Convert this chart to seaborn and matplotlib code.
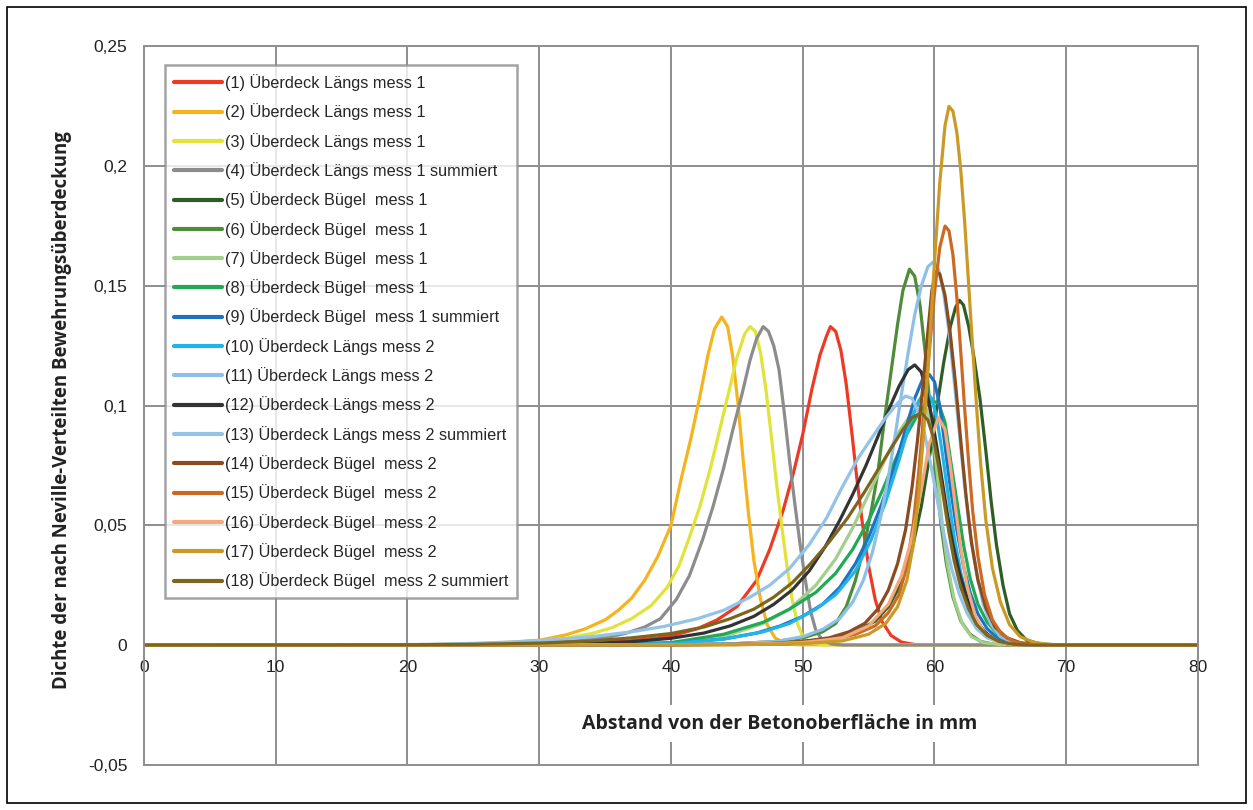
import pandas as pd
import matplotlib.pyplot as plt
import seaborn as sns
from matplotlib.patches import Rectangle
from matplotlib.ticker import FuncFormatter

# curve samples (x in mm, y = density)
labels = [
    "(1) Überdeck Längs mess 1",
    "(2) Überdeck Längs mess 1",
    "(3) Überdeck Längs mess 1",
    "(4) Überdeck Längs mess 1 summiert",
    "(5) Überdeck Bügel  mess 1",
    "(6) Überdeck Bügel  mess 1",
    "(7) Überdeck Bügel  mess 1",
    "(8) Überdeck Bügel  mess 1",
    "(9) Überdeck Bügel  mess 1 summiert",
    "(10) Überdeck Längs mess 2",
    "(11) Überdeck Längs mess 2",
    "(12) Überdeck Längs mess 2",
    "(13) Überdeck Längs mess 2 summiert",
    "(14) Überdeck Bügel  mess 2",
    "(15) Überdeck Bügel  mess 2",
    "(16) Überdeck Bügel  mess 2",
    "(17) Überdeck Bügel  mess 2",
    "(18) Überdeck Bügel  mess 2 summiert",
]
colors = [
    "#ee3a24", "#f5b41e", "#e2e33a", "#8c8c8c", "#2e5e25", "#4e8c3a",
    "#a3cf8d", "#21a956", "#1f72bf", "#1fb5e8", "#8dc0e6", "#333333",
    "#93c3e8", "#8a4b1f", "#cc6a24", "#f2a97e", "#c99a26", "#7d6520",
]

x1 = [0, 30, 34, 37, 39, 40.5, 42, 43.5, 45, 46.5, 47.5, 48.5, 49.3, 50, 50.7, 51.3, 51.8, 52.1, 52.5, 52.9, 53.3, 53.7, 54.1, 54.5, 55, 55.5, 56, 56.7, 57.5, 58.5, 80]
y1 = [0, 0.0002, 0.0008, 0.0018, 0.003, 0.0045, 0.0068, 0.0105, 0.016, 0.027, 0.040, 0.056, 0.072, 0.088, 0.107, 0.121, 0.129, 0.133, 0.131, 0.123, 0.109, 0.09, 0.07, 0.052, 0.033, 0.019, 0.01, 0.004, 0.0012, 0.0002, 0]
x2 = [0, 20, 25, 28, 30, 32, 33.5, 35, 36, 37, 38, 39, 40, 40.8, 41.5, 42.2, 42.8, 43.3, 43.85, 44.3, 44.7, 45.1, 45.5, 45.9, 46.3, 46.8, 47.3, 47.9, 48.6, 49.5, 80]
y2 = [0, 0.0001, 0.0005, 0.0012, 0.002, 0.0042, 0.0068, 0.0105, 0.0145, 0.0195, 0.027, 0.037, 0.050, 0.07, 0.086, 0.104, 0.121, 0.132, 0.137, 0.133, 0.12, 0.1, 0.076, 0.054, 0.035, 0.019, 0.0085, 0.003, 0.0008, 0.0001, 0]
x3 = [0, 22, 27, 30, 32, 34, 35.5, 37, 38.5, 39.7, 40.6, 41.4, 42.2, 43, 43.7, 44.4, 45, 45.6, 46, 46.4, 46.8, 47.2, 47.6, 48, 48.4, 48.8, 49.2, 49.6, 50, 50.6, 51.5, 80]
y3 = [0, 0.0001, 0.0006, 0.0015, 0.0028, 0.0048, 0.0072, 0.011, 0.0165, 0.024, 0.033, 0.045, 0.058, 0.074, 0.09, 0.106, 0.12, 0.13, 0.133, 0.131, 0.122, 0.107, 0.088, 0.068, 0.05, 0.033, 0.019, 0.009, 0.0035, 0.001, 0.0001, 0]
x4 = [0, 24, 28, 31, 33, 35, 36.5, 38, 39.2, 40.4, 41.4, 42.4, 43.2, 44, 44.7, 45.4, 46, 46.5, 47, 47.4, 47.8, 48.2, 48.6, 49, 49.4, 49.8, 50.2, 50.6, 51, 51.5, 52.2, 53, 80]
y4 = [0, 0.0001, 0.0004, 0.001, 0.0018, 0.003, 0.0048, 0.0075, 0.011, 0.019, 0.029, 0.044, 0.058, 0.074, 0.09, 0.105, 0.119, 0.128, 0.133, 0.131, 0.125, 0.115, 0.097, 0.077, 0.059, 0.042, 0.027, 0.014, 0.006, 0.002, 0.0004, 0, 0]
x5 = [0, 40, 45, 49, 52, 54, 55.5, 56.5, 57.5, 58.3, 59, 59.6, 60.2, 60.7, 61.2, 61.6, 61.9, 62.2, 62.6, 63, 63.45, 63.9, 64.3, 64.7, 65.2, 65.7, 66.3, 67, 68, 69.5, 80]
y5 = [0, 0.0001, 0.0004, 0.001, 0.0025, 0.0055, 0.01, 0.016, 0.026, 0.04, 0.058, 0.078, 0.1, 0.118, 0.133, 0.141, 0.144, 0.142, 0.133, 0.12, 0.103, 0.081, 0.06, 0.042, 0.025, 0.013, 0.006, 0.002, 0.0005, 0, 0]
x6 = [0, 40, 45, 48, 50, 51.5, 52.5, 53.3, 54, 54.6, 55.2, 55.7, 56.2, 56.7, 57.2, 57.6, 58.1, 58.5, 58.9, 59.3, 59.7, 60.1, 60.5, 60.9, 61.4, 62, 62.7, 63.5, 64.5, 66, 80]
y6 = [0, 0.0001, 0.0006, 0.0015, 0.003, 0.0055, 0.009, 0.016, 0.027, 0.04, 0.056, 0.072, 0.094, 0.114, 0.134, 0.148, 0.157, 0.154, 0.142, 0.122, 0.097, 0.072, 0.05, 0.034, 0.02, 0.01, 0.0045, 0.0015, 0.0003, 0, 0]
x7 = [0, 35, 40, 44, 47, 49, 51, 52.5, 53.8, 55, 56.2, 57.3, 58.3, 59.3, 59.8, 60.2, 60.6, 61, 61.5, 62.1, 62.8, 63.7, 65, 80]
y7 = [0, 0.0002, 0.001, 0.0035, 0.009, 0.015, 0.025, 0.036, 0.049, 0.063, 0.077, 0.089, 0.097, 0.1, 0.092, 0.072, 0.05, 0.033, 0.019, 0.009, 0.0035, 0.001, 0.0001, 0]
x8 = [0, 35, 40, 44, 47, 49, 51, 52.5, 53.8, 55, 56, 57, 57.9, 58.7, 59.3, 59.8, 60.3, 60.8, 61.2, 61.7, 62.2, 62.7, 63.3, 64, 64.8, 65.7, 67, 68.5, 80]
y8 = [0, 0.0002, 0.001, 0.0045, 0.0095, 0.015, 0.022, 0.03, 0.04, 0.052, 0.064, 0.077, 0.088, 0.096, 0.1, 0.102, 0.101, 0.093, 0.078, 0.06, 0.042, 0.028, 0.017, 0.0095, 0.0045, 0.0015, 0.0003, 0, 0]
x9 = [0, 35, 40, 44, 46.5, 48.3, 50, 51.5, 52.8, 54, 55, 56, 57, 57.8, 58.5, 59.1, 59.6, 60, 60.4, 60.8, 61.2, 61.7, 62.2, 62.7, 63.3, 64, 64.8, 65.7, 67, 80]
y9 = [0, 0.0001, 0.0006, 0.0025, 0.005, 0.008, 0.012, 0.017, 0.024, 0.034, 0.045, 0.059, 0.075, 0.09, 0.103, 0.111, 0.113, 0.11, 0.1, 0.083, 0.066, 0.048, 0.033, 0.022, 0.013, 0.0068, 0.0028, 0.0008, 0, 0]
x10 = [0, 35, 40, 44, 47, 49, 51, 52.5, 54, 55.2, 56.3, 57.3, 58.1, 58.8, 59.3, 59.8, 60.2, 60.6, 61, 61.5, 62, 62.6, 63.3, 64.1, 65, 66.5, 80]
y10 = [0, 0.0001, 0.0006, 0.0025, 0.0055, 0.009, 0.015, 0.021, 0.031, 0.044, 0.06, 0.077, 0.092, 0.102, 0.106, 0.103, 0.094, 0.08, 0.064, 0.045, 0.03, 0.018, 0.009, 0.004, 0.0012, 0.0001, 0]
x11 = [0, 40, 45, 48, 50, 51.5, 52.8, 53.8, 54.6, 55.3, 55.9, 56.5, 57, 57.5, 58, 58.5, 59, 59.5, 59.9, 60.3, 60.7, 61.1, 61.5, 61.9, 62.3, 62.7, 63.2, 63.7, 64.3, 65, 66, 67.5, 80]
y11 = [0, 0.0001, 0.0006, 0.0015, 0.0035, 0.0065, 0.011, 0.018, 0.027, 0.039, 0.053, 0.07, 0.087, 0.105, 0.122, 0.138, 0.15, 0.158, 0.16, 0.157, 0.147, 0.131, 0.11, 0.088, 0.066, 0.047, 0.03, 0.017, 0.0085, 0.0035, 0.001, 0, 0]
x12 = [0, 28, 33, 37, 40, 42.5, 44.5, 46.3, 47.8, 49.2, 50.5, 51.7, 52.8, 53.8, 54.8, 55.7, 56.5, 57.3, 58, 58.5, 59, 59.4, 59.8, 60.2, 60.6, 61, 61.4, 61.9, 62.5, 63.1, 63.8, 64.6, 65.5, 67, 80]
y12 = [0, 0.0001, 0.0005, 0.0014, 0.0028, 0.005, 0.008, 0.012, 0.017, 0.023, 0.031, 0.041, 0.052, 0.063, 0.075, 0.087, 0.098, 0.108, 0.115, 0.117, 0.114, 0.106, 0.095, 0.082, 0.068, 0.054, 0.042, 0.03, 0.019, 0.011, 0.0055, 0.002, 0.0005, 0, 0]
x13 = [0, 18, 22, 25, 28, 31, 34, 37, 39.5, 42, 44, 46, 47.5, 49, 50.5, 51.8, 53, 54.2, 55.3, 56.3, 57.2, 57.8, 58.3, 58.8, 59.3, 59.8, 60.3, 60.8, 61.3, 61.9, 62.5, 63.2, 64, 65, 66.5, 68, 80]
y13 = [0, 0.0001, 0.0003, 0.0007, 0.0013, 0.0022, 0.0035, 0.0055, 0.0078, 0.011, 0.0145, 0.02, 0.025, 0.032, 0.042, 0.053, 0.066, 0.078, 0.087, 0.095, 0.101, 0.104, 0.103, 0.097, 0.087, 0.073, 0.058, 0.044, 0.032, 0.021, 0.013, 0.0068, 0.003, 0.001, 0.0002, 0, 0]
x14 = [0, 42, 47, 50, 52, 53.5, 54.7, 55.7, 56.5, 57.2, 57.8, 58.3, 58.7, 59.1, 59.5, 59.8, 60.1, 60.4, 60.8, 61.2, 61.6, 62, 62.4, 62.8, 63.3, 63.9, 64.6, 65.5, 66.5, 68, 80]
y14 = [0, 0.0001, 0.0005, 0.0015, 0.003, 0.0055, 0.009, 0.015, 0.023, 0.034, 0.048, 0.066, 0.085, 0.107, 0.131, 0.148, 0.156, 0.155, 0.146, 0.13, 0.109, 0.085, 0.062, 0.043, 0.027, 0.0155, 0.0075, 0.003, 0.001, 0, 0]
x15 = [0, 45, 49, 52, 54, 55.5, 56.5, 57.3, 57.9, 58.4, 58.8, 59.2, 59.6, 60, 60.4, 60.8, 61.1, 61.4, 61.7, 62, 62.3, 62.6, 62.9, 63.3, 63.8, 64.4, 65.1, 66, 67.2, 68.5, 80]
y15 = [0, 0.0002, 0.0008, 0.002, 0.0045, 0.008, 0.0135, 0.021, 0.033, 0.051, 0.072, 0.097, 0.122, 0.147, 0.166, 0.175, 0.173, 0.163, 0.145, 0.122, 0.098, 0.076, 0.056, 0.037, 0.021, 0.0105, 0.0045, 0.0015, 0.0002, 0, 0]
x16 = [0, 45, 50, 53, 55, 56.5, 57.5, 58.3, 59, 59.6, 60.3, 60.8, 61.2, 61.6, 62, 62.5, 63.1, 63.8, 64.7, 66, 80]
y16 = [0, 0.0002, 0.001, 0.003, 0.008, 0.017, 0.029, 0.045, 0.065, 0.084, 0.095, 0.09, 0.075, 0.057, 0.04, 0.024, 0.012, 0.005, 0.0015, 0, 0]
x17 = [0, 45, 50, 53, 55, 56.3, 57.2, 57.9, 58.4, 58.8, 59.2, 59.6, 60, 60.4, 60.8, 61.1, 61.4, 61.7, 62, 62.3, 62.6, 62.9, 63.2, 63.5, 63.9, 64.4, 65, 65.7, 66.5, 67.5, 68.5, 70, 80]
y17 = [0, 0.0001, 0.0006, 0.0017, 0.0045, 0.009, 0.016, 0.027, 0.042, 0.063, 0.09, 0.124, 0.16, 0.193, 0.217, 0.225, 0.223, 0.214, 0.198, 0.176, 0.15, 0.124, 0.099, 0.076, 0.052, 0.032, 0.018, 0.0085, 0.0035, 0.0012, 0.0003, 0, 0]
x18 = [0, 20, 25, 30, 34, 37, 40, 42.5, 44.5, 46.3, 47.8, 49.2, 50.6, 52, 53.4, 54.7, 55.8, 56.8, 57.6, 58.3, 59, 59.5, 59.9, 60.3, 60.7, 61.1, 61.5, 62, 62.6, 63.2, 64, 64.9, 66, 67.5, 80]
y18 = [0, 0.0001, 0.0003, 0.0008, 0.0017, 0.003, 0.0048, 0.0075, 0.011, 0.015, 0.02, 0.026, 0.034, 0.043, 0.053, 0.064, 0.074, 0.083, 0.09, 0.095, 0.097, 0.094, 0.087, 0.075, 0.061, 0.047, 0.035, 0.024, 0.015, 0.0085, 0.004, 0.0015, 0.0003, 0, 0]

xs = [x1, x2, x3, x4, x5, x6, x7, x8, x9, x10, x11, x12, x13, x14, x15, x16, x17, x18]
ys = [y1, y2, y3, y4, y5, y6, y7, y8, y9, y10, y11, y12, y13, y14, y15, y16, y17, y18]

frames = []
for lab, xv, yv in zip(labels, xs, ys):
    frames.append(pd.DataFrame({"x": xv, "y": yv, "serie": lab}))
df = pd.concat(frames, ignore_index=True)

sns.set_style("white")
plt.rcParams["font.family"] = ["Liberation Sans", "DejaVu Sans"]

grid_col = "#8e8e93"

fig = plt.figure(figsize=(12.53, 8.10), dpi=100)
ax = fig.add_axes([0.1149, 0.0559, 0.8412, 0.8867])

sns.lineplot(data=df, x="x", y="y", hue="serie", hue_order=labels,
             palette=dict(zip(labels, colors)), linewidth=2.3,
             estimator=None, sort=False, ax=ax)

ax.set_xlim(0, 80)
ax.set_ylim(-0.05, 0.25)
ax.set_xticks(range(0, 81, 10))
ax.set_yticks([-0.05, 0, 0.05, 0.1, 0.15, 0.2, 0.25])
ax.yaxis.set_major_formatter(FuncFormatter(lambda v, p: f"{v:g}".replace(".", ",")))
ax.grid(True, color=grid_col, linewidth=1.4)
ax.set_axisbelow(True)
for sp in ax.spines.values():
    sp.set_color(grid_col)
    sp.set_linewidth(1.4)

# x tick labels sit just under the zero line, like the Excel original
ax.tick_params(axis="x", length=0, pad=-75.5, labelsize=12.5, colors="#222222")
ax.tick_params(axis="y", length=0, pad=12, labelsize=12.5, colors="#222222")

ax.set_xlabel("Abstand von der Betonoberfläche in mm", family="Open Sans",
              fontweight="bold", fontsize=14, color="#222222", va="center",
              bbox=dict(facecolor="white", edgecolor="none", pad=6))
ax.xaxis.set_label_coords(0.603, 0.057)
ax.set_ylabel("Dichte der nach Neville-Verteilten Bewehrungsüberdeckung",
              family="Open Sans", fontweight="bold", fontsize=13.4,
              color="#222222", va="center")
ax.yaxis.set_label_coords(-0.078, 0.494)

handles, labs = ax.get_legend_handles_labels()
leg = ax.legend(handles, labs, loc="upper left", bbox_to_anchor=(0.0199, 0.974),
                borderaxespad=0, fontsize=11.7, frameon=True, fancybox=False,
                edgecolor=grid_col, handlelength=2.95, handletextpad=0.2,
                labelspacing=0.76, borderpad=0.55)
leg.get_frame().set_linewidth(1.8)
for line in leg.get_lines():
    line.set_linewidth(3)

fig.patches.append(Rectangle((7 / 1253, 7 / 810), 1239 / 1253, 796 / 810,
                             transform=fig.transFigure, fill=False,
                             edgecolor="black", linewidth=1.2))

fig.savefig("out.png", dpi=100)
